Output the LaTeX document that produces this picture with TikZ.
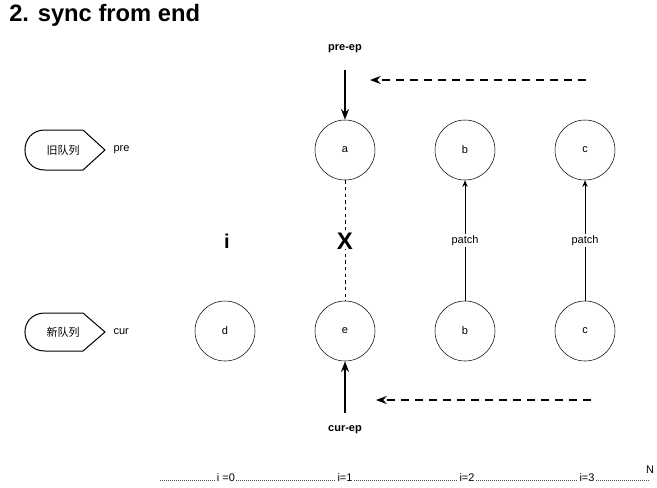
\documentclass[tikz,border=0pt]{standalone}
\usepackage{fontspec}
\setmainfont{Liberation Sans}
\newfontfamily\cjk{Noto Sans CJK SC}
\usetikzlibrary{arrows.meta}
\begin{document}
\begin{tikzpicture}[x=0.75pt,y=-0.75pt,
  circ/.style={draw,circle,minimum size=45pt,inner sep=0pt,font=\fontsize{8.25}{10}\selectfont},
  lbl/.style={font=\fontsize{8.25}{10}\selectfont,inner sep=1pt},
  blbl/.style={font=\bfseries\fontsize{8.25}{10}\selectfont,inner sep=1pt},
  axlbl/.style={font=\fontsize{8.25}{10}\selectfont,fill=white,inner sep=1pt},
  bigarrow/.style={line width=1.5pt,-{Stealth[length=8pt,width=6pt]}},
  dasharrow/.style={line width=1.5pt,dash pattern=on 6pt off 4.5pt,-{Stealth[length=8pt,width=6pt]}},
  patcharrow/.style={line width=0.75pt,-{Stealth[length=5pt,width=4pt]}},
  disp/.style={draw,line width=0.75pt}
]
\useasboundingbox (0,0) rectangle (657,487);
% title
\node[anchor=west,font=\bfseries\fontsize{17.8}{20}\selectfont,inner sep=0pt] (title) at (9,15) {2. sync from end};
% display shapes
\draw[disp] (45,130) -- (83,130) -- (105,150) -- (83,170) -- (45,170) .. controls (18.3,170) and (18.3,130) .. (45,130);
\node[lbl,font=\cjk\fontsize{8.25}{10}\selectfont] (old) at (63,150) {旧队列};
\node[lbl,anchor=west] (pre) at (112,150) {pre};
\draw[disp] (45,313) -- (83,313) -- (105,332) -- (83,351) -- (45,351) .. controls (18.3,351) and (18.3,313) .. (45,313);
\node[lbl,font=\cjk\fontsize{8.25}{10}\selectfont] (new) at (63,332) {新队列};
\node[lbl,anchor=west] (cur) at (112,332) {cur};
% circles
\node[circ] (a) at (345,150) {a};
\node[circ] (b1) at (465,150) {b};
\node[circ] (c1) at (585,150) {c};
\node[circ] (d) at (225,331) {d};
\node[circ] (e) at (345,331) {e};
\node[circ] (b2) at (465,331) {b};
\node[circ] (c2) at (585,331) {c};
% ep labels and arrows
\node[blbl] (preep) at (345,49) {pre-ep};
\coordinate (preeps) at (345,70);
\draw[bigarrow] (preeps) -- (a.north);
\coordinate (dtopS) at (586,80);
\coordinate (dtopE) at (370,80);
\draw[dasharrow] (dtopS) -- (dtopE);
\node[blbl] (curep) at (345,430) {cur-ep};
\coordinate (cureps) at (345,413);
\draw[bigarrow] (cureps) -- (e.south);
\coordinate (dbotS) at (591,400);
\coordinate (dbotE) at (376,400);
\draw[dasharrow] (dbotS) -- (dbotE);
% a-e dashed with X
\draw[dash pattern=on 2.5pt off 2.5pt,line width=0.6pt] (a.south) -- (e.north);
\node[font=\bfseries\fontsize{18}{20}\selectfont,fill=white,inner sep=0pt] (x) at (345,241) {X};
\node[font=\bfseries\fontsize{15}{18}\selectfont,inner sep=0pt] (i) at (227,241) {i};
% patch arrows
\draw[patcharrow] (b2.north) -- node[lbl,fill=white] (p1) {patch} (b1.south);
\draw[patcharrow] (c2.north) -- node[lbl,fill=white] (p2) {patch} (c1.south);
% axis
\coordinate (axs) at (160,480);
\coordinate (axe) at (650,480);
\draw[dash pattern=on 0.6pt off 0.9pt,line width=0.5pt,black!70] (axs) -- (axe);
\node[axlbl] (i0) at (226,478) {i =0};
\node[axlbl] (i1) at (345,478) {i=1};
\node[axlbl] (i2) at (467,478) {i=2};
\node[axlbl] (i3) at (587,478) {i=3};
\node[lbl] (N) at (650,470) {N};
\end{tikzpicture}
\end{document}
